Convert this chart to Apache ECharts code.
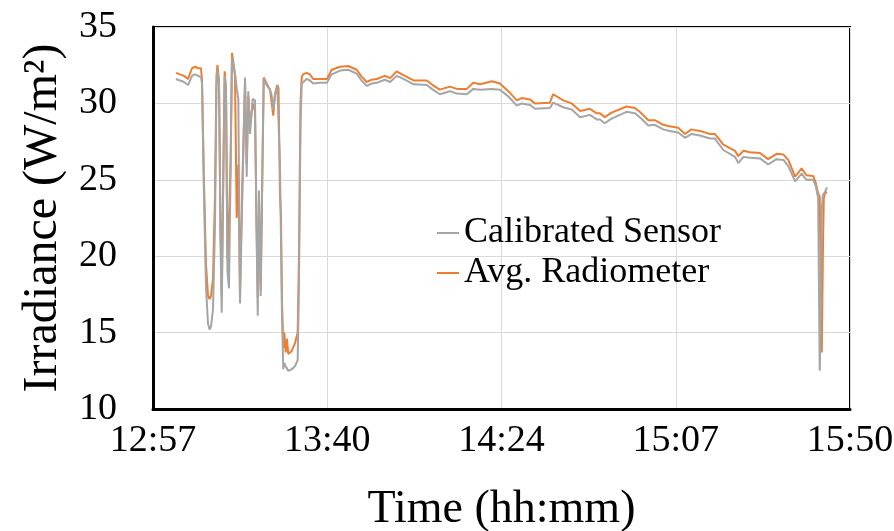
<!DOCTYPE html>
<html>
<head>
<meta charset="utf-8">
<title>Irradiance</title>
<script src="https://cdn.jsdelivr.net/npm/echarts@6/dist/echarts.min.js"></script>
<style>
  html, body { margin: 0; padding: 0; background: #fff; }
  #chart { width: 894px; height: 531px; }
</style>
</head>
<body>
<div id="chart"></div>
<script>
// sample times (hh:mm:ss)
const times = [
  '13:03:18', '13:04:17', '13:05:17', '13:06:17', '13:07:16', '13:08:01', '13:08:46', '13:09:30',
  '13:09:45', '13:10:14', '13:10:44', '13:11:14', '13:11:37', '13:11:59', '13:12:28', '13:12:58',
  '13:13:20', '13:13:35', '13:13:58', '13:14:20', '13:14:38', '13:14:57', '13:15:22', '13:15:42',
  '13:16:04', '13:16:26', '13:16:49', '13:17:11', '13:17:34', '13:17:56', '13:18:21', '13:18:45',
  '13:19:10', '13:19:40', '13:20:25', '13:20:50', '13:21:14', '13:21:39', '13:22:19', '13:22:53',
  '13:23:16', '13:23:34', '13:23:53', '13:24:18', '13:24:38', '13:25:03', '13:25:47', '13:26:36',
  '13:26:58', '13:27:25', '13:27:50', '13:28:25', '13:28:43', '13:29:05', '13:29:20', '13:29:35',
  '13:29:54', '13:30:09', '13:30:30', '13:30:49', '13:31:08', '13:31:59', '13:32:48', '13:33:28',
  '13:33:47', '13:34:10', '13:34:28', '13:34:47',
  '13:35:42', '13:36:30', '13:37:18', '13:38:58', '13:40:42', '13:41:54', '13:44:00', '13:46:00',
  '13:48:06', '13:49:18', '13:50:36', '13:51:48', '13:53:06', '13:55:06', '13:56:24', '13:58:00',
  '13:59:42', '14:02:12', '14:05:30', '14:06:42', '14:08:42', '14:11:12', '14:12:54', '14:15:24',
  '14:17:00', '14:18:42', '14:21:36', '14:23:36', '14:25:42', '14:27:48', '14:29:00', '14:31:06',
  '14:32:18', '14:36:00', '14:36:48', '14:39:18', '14:41:24', '14:43:30', '14:45:54', '14:47:36',
  '14:48:24', '14:49:36', '14:51:18', '14:55:00', '14:57:06', '14:58:42', '15:00:24', '15:02:00',
  '15:04:06', '15:05:42', '15:07:48', '15:09:30', '15:11:06', '15:13:12', '15:15:42', '15:16:54',
  '15:19:00', '15:21:54', '15:22:42', '15:24:00', '15:25:36', '15:28:06', '15:30:06', '15:32:12',
  '15:33:54', '15:35:06', '15:36:48', '15:38:24', '15:39:36', '15:41:18', '15:41:54', '15:42:30',
  '15:42:42', '15:42:54', '15:43:06', '15:43:24', '15:43:40', '15:43:54', '15:44:12', '15:44:42'
]

// Avg. Radiometer (W/m2)
const radiometer = [
  32.0, 31.9, 31.8, 31.6, 32.3, 32.4, 32.3, 32.3,
  31.5, 25.0, 19.5, 17.4, 17.2, 17.4, 18.5, 24.0,
  31.8, 32.5, 31.5, 22.0, 17.4, 24.0, 32.1, 31.0,
  19.8, 22.3, 26.0, 33.3, 32.6, 31.8, 22.5, 26.0,
  17.5, 24.0, 31.4, 26.0, 30.5, 28.5, 30.0, 29.5,
  22.0, 17.3, 23.0, 17.8, 24.0, 31.7, 31.3, 30.9,
  30.8, 29.2, 30.6, 31.2, 31.0, 24.0, 22.6, 17.0,
  14.0, 15.0, 13.7, 14.6, 13.6, 13.8, 14.3, 15.0,
  20.0, 30.0, 31.7, 31.9,
  32.0, 31.9, 31.6, 31.6, 31.6, 32.2, 32.4, 32.45,
  32.2, 31.75, 31.4, 31.55, 31.6, 31.8, 31.65, 32.1,
  31.85, 31.5, 31.5, 31.25, 30.9, 31.1, 30.95, 30.95,
  31.35, 31.25, 31.45, 31.3, 30.8, 30.2, 30.35, 30.25,
  30.0, 30.05, 30.6, 30.2, 30.0, 29.5, 29.65, 29.35,
  29.35, 29.1, 29.4, 29.8, 29.7, 29.35, 28.9, 28.9,
  28.6, 28.5, 28.4, 28.0, 28.3, 28.2, 28.0, 28.0,
  27.3, 26.9, 26.55, 26.9, 26.8, 26.75, 26.35, 26.7,
  26.65, 26.3, 25.2, 25.75, 25.3, 25.25, 24.8, 24.1,
  24.0, 23.9, 19.0, 13.7, 20.0, 23.8, 24.1, 24.2
]

// Calibrated Sensor (W/m2)
const sensor = [
  31.6, 31.5, 31.4, 31.2, 31.8, 31.9, 31.8, 31.7,
  31.3, 24.0, 18.0, 15.6, 15.2, 15.4, 16.5, 22.0,
  31.0, 32.2, 31.3, 21.0, 16.3, 23.0, 31.8, 30.8,
  19.0, 17.9, 25.0, 33.0, 32.4, 32.0, 31.0, 30.3,
  16.9, 23.0, 31.7, 25.2, 30.8, 28.0, 30.3, 30.2,
  22.0, 16.1, 24.3, 17.4, 24.0, 31.6, 31.2, 30.9,
  30.6, 29.6, 30.5, 31.1, 31.0, 26.0, 21.0, 16.0,
  12.6, 13.0, 12.8, 12.9, 12.5, 12.6, 12.8, 13.2,
  18.0, 28.5, 31.3, 31.4,
  31.6, 31.5, 31.3, 31.35, 31.35, 31.9, 32.15, 32.2,
  31.95, 31.5, 31.15, 31.3, 31.35, 31.55, 31.4, 31.8,
  31.6, 31.25, 31.2, 30.95, 30.6, 30.8, 30.65, 30.6,
  30.95, 30.9, 30.95, 30.9, 30.45, 29.85, 30.0, 29.9,
  29.65, 29.7, 30.05, 29.75, 29.6, 29.1, 29.25, 28.95,
  28.95, 28.7, 29.0, 29.45, 29.35, 29.0, 28.55, 28.6,
  28.3, 28.2, 28.1, 27.75, 28.0, 27.9, 27.7, 27.7,
  26.95, 26.5, 26.1, 26.5, 26.45, 26.4, 26.0, 26.35,
  26.3, 25.9, 24.9, 25.4, 25.0, 25.0, 24.6, 23.8,
  18.0, 12.5, 15.0, 23.0, 24.0, 24.1, 24.2, 24.5
]

const FONT = '"Liberation Serif", "Times New Roman", serif'

// minutes since midnight
const toMin = (s) => {
  const p = s.split(':').map(Number)
  return p[0] * 60 + p[1] + p[2] / 60
}
const fmtTime = (v) => {
  const m = Math.floor(v + 1e-6)
  return Math.floor(m / 60) + ':' + String(m % 60).padStart(2, '0')
}

const chart = echarts.init(document.getElementById('chart'), null, { renderer: 'canvas' })

const option = {
  animation: false,
  backgroundColor: '#fff',
  grid: {
    left: 153,
    right: 44,
    top: 27,
    bottom: 122,
    outerBoundsMode: 'none',
    show: true,
    borderColor: '#000',
    borderWidth: 2
  },
  legend: {
    orient: 'vertical',
    left: 432,
    top: 210,
    icon: 'rect',
    itemWidth: 22,
    itemHeight: 2,
    itemGap: 4,
    data: ['Calibrated Sensor', 'Avg. Radiometer'],
    textStyle: { fontFamily: FONT, fontSize: 36, color: '#000' }
  },
  xAxis: {
    type: 'value',
    min: 777.6,
    max: 950.4,
    interval: 43.2,
    name: 'Time (hh:mm)',
    nameLocation: 'middle',
    nameGap: 78,
    nameTextStyle: { fontFamily: FONT, fontSize: 46, color: '#000' },
    axisLine: { show: true, lineStyle: { color: '#000', width: 3 } },
    axisTick: { show: false },
    axisLabel: {
      margin: 13,
      fontFamily: FONT,
      fontSize: 38,
      color: '#000',
      formatter: fmtTime
    },
    splitLine: { show: true, lineStyle: { color: '#d9d9d9', width: 1 } }
  },
  yAxis: {
    type: 'value',
    min: 10,
    max: 35,
    interval: 5,
    name: 'Irradiance (W/m²)',
    nameLocation: 'middle',
    nameGap: 86,
    nameTextStyle: { fontFamily: FONT, fontSize: 48, color: '#000' },
    axisLine: { show: true, lineStyle: { color: '#000', width: 3 } },
    axisTick: { show: false },
    axisLabel: { margin: 36, fontFamily: FONT, fontSize: 38, color: '#000' },
    splitLine: { show: true, lineStyle: { color: '#d9d9d9', width: 1 } }
  },
  series: [
    {
      name: 'Avg. Radiometer',
      type: 'line',
      showSymbol: false,
      color: '#ED7D31',
      lineStyle: { width: 2, color: '#ED7D31' },
      data: times.map((t, i) => [toMin(t), radiometer[i]])
    },
    {
      name: 'Calibrated Sensor',
      type: 'line',
      showSymbol: false,
      color: '#A5A5A5',
      lineStyle: { width: 2, color: '#A5A5A5' },
      data: times.map((t, i) => [toMin(t), sensor[i]])
    }
  ]
}

chart.setOption(option)
</script>
</body>
</html>
